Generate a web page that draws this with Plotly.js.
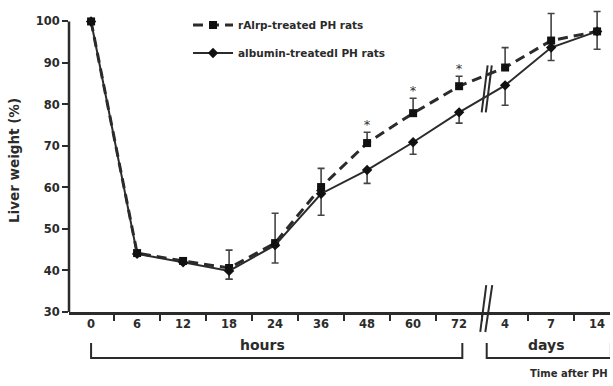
<!DOCTYPE html>
<html>
<head>
<meta charset="utf-8">
<script src="https://cdn.plot.ly/plotly-3.0.1.min.js"></script>
<style>html,body{margin:0;padding:0;background:#fff;}#chart{width:613px;height:386px;}</style>
</head>
<body>
<div id="chart"></div>
<script>
// Time points (categories): hours 0..72 then days 4, 7, 14
const timeLabels = ['0','6','12','18','24','36','48','60','72','4','7','14'];
// Liver weight (%)
const rAlrpValues   = [100, 44.2, 42.3, 40.6, 46.6, 60.1, 70.7, 77.9, 84.4, 88.9, 95.4, 97.6];
const rAlrpErrUp    = [0, 0, 0, 4.3, 7.2, 4.5, 2.6, 3.6, 2.4, 4.8, 6.5, 4.8];
const rAlrpErrDown  = [0, 0, 0, 2.7, 0, 0, 0, 0, 0, 0, 0, 0];
const albuminValues = [100, 44.0, 42.0, 39.9, 46.1, 58.5, 64.2, 70.9, 78.1, 84.6, 93.7, 97.6];
const albuminErrUp  = [0, 0, 0, 0, 0, 0, 0, 0, 0, 0, 0, 0];
const albuminErrDown= [0, 0, 0, 2.0, 4.3, 5.2, 3.2, 2.9, 2.6, 4.8, 3.1, 4.3];
// significance markers
const sigLabels = ['48','60','72'];
const yTickVals = [30, 40, 50, 60, 70, 80, 90, 100];

const ink = '#2b2b2b';
const FONT = 'DejaVu Sans, Arial, sans-serif';

const sigY = sigLabels.map(l => {
  const i = timeLabels.indexOf(l);
  return rAlrpValues[i] + rAlrpErrUp[i];
});

const traces = [
  {
    x: timeLabels, y: rAlrpValues, type: 'scatter', mode: 'lines+markers',
    name: 'rAlrp-treated PH rats', legendgroup: 'a',
    line: {color: ink, width: 3, dash: '10px,6px'},
    marker: {symbol: 'square', size: 8, color: '#111'},
    error_y: {type: 'data', symmetric: false, array: rAlrpErrUp, arrayminus: rAlrpErrDown,
              color: '#444', thickness: 1.6, width: 3.5},
    cliponaxis: false
  },
  {
    x: timeLabels, y: albuminValues, type: 'scatter', mode: 'lines+markers',
    name: 'albumin-treatedl PH rats', legendgroup: 'b',
    line: {color: ink, width: 2},
    marker: {symbol: 'diamond', size: 8, color: '#111'},
    error_y: {type: 'data', symmetric: false, array: albuminErrUp, arrayminus: albuminErrDown,
              color: '#444', thickness: 1.6, width: 3.5},
    cliponaxis: false
  },
  {
    x: sigLabels, y: sigY, type: 'scatter', mode: 'text', text: sigLabels.map(() => '*'),
    textposition: 'top center', textfont: {family: FONT, size: 13, color: '#333'},
    showlegend: false, hoverinfo: 'skip', cliponaxis: false
  }
];

const lineStyle = {color: ink, width: 2};
const shapes = [
  // y axis line (only up to 100)
  {type: 'line', xref: 'paper', yref: 'y', x0: 0, x1: 0, y0: 30, y1: 100, line: {color: ink, width: 2.5}},
  // hours bracket
  {type: 'path', xref: 'x', yref: 'paper', path: 'M 0,-0.102 L 0,-0.152 L 8.07,-0.152 L 8.07,-0.102', line: lineStyle},
  // days bracket
  {type: 'path', xref: 'x', yref: 'paper', path: 'M 8.6,-0.102 L 8.6,-0.152 L 11.3,-0.152 L 11.3,-0.102', line: lineStyle},
  // axis break marks
  {type: 'line', xref: 'x', yref: 'paper', x0: 8.46, y0: -0.066, x1: 8.59, y1: 0.089, line: lineStyle},
  {type: 'line', xref: 'x', yref: 'paper', x0: 8.57, y0: -0.066, x1: 8.72, y1: 0.089, line: lineStyle},
  // data break marks
  {type: 'line', xref: 'x', yref: 'y', x0: 8.49, y0: 78.1, x1: 8.62, y1: 89.4, line: lineStyle},
  {type: 'line', xref: 'x', yref: 'y', x0: 8.58, y0: 78.1, x1: 8.71, y1: 89.4, line: lineStyle}
];

const annotations = [
  {text: 'hours', xref: 'x', yref: 'paper', x: 3.72, y: -0.149, showarrow: false,
   bgcolor: '#fff', borderpad: 3, font: {family: FONT, size: 14, color: ink, weight: 'bold'}},
  {text: 'days', xref: 'x', yref: 'paper', x: 9.91, y: -0.149, showarrow: false,
   bgcolor: '#fff', borderpad: 3, font: {family: FONT, size: 14, color: ink, weight: 'bold'}},
  {text: 'Time after PH', xref: 'paper', yref: 'paper', x: 1.0, y: -0.227, xanchor: 'right',
   showarrow: false, font: {family: FONT, size: 10, color: ink, weight: 'bold'}}
];

const layout = {
  width: 613, height: 386,
  margin: {l: 69, r: 3, t: 8.5, b: 74},
  paper_bgcolor: '#fff', plot_bgcolor: '#fff',
  showlegend: true,
  legend: {x: 0.22, y: 0.995, xanchor: 'left', yanchor: 'top', traceorder: 'grouped',
           tracegroupgap: 9, itemwidth: 40, bgcolor: 'rgba(0,0,0,0)',
           font: {family: FONT, size: 10.5, color: ink, weight: 'bold'}},
  xaxis: {type: 'category', range: [-0.48, 11.28], showgrid: false, zeroline: false,
          showline: true, linecolor: ink, linewidth: 2.5,
          ticks: 'outside', tickson: 'boundaries', ticklen: 6, tickwidth: 2, tickcolor: ink,
          tickfont: {family: FONT, size: 11.5, color: ink, weight: 'bold'}},
  yaxis: {range: [30, 103], tickvals: yTickVals, showgrid: false, zeroline: false,
          showline: false,
          ticks: 'outside', ticklen: 6, tickwidth: 2, tickcolor: ink,
          tickfont: {family: FONT, size: 11.5, color: ink, weight: 'bold'},
          title: {text: 'Liver weight (%)', standoff: 12,
                  font: {family: FONT, size: 13.5, color: ink, weight: 'bold'}}},
  shapes: shapes,
  annotations: annotations
};

Plotly.newPlot('chart', traces, layout, {displayModeBar: false, staticPlot: true});
</script>
</body>
</html>
